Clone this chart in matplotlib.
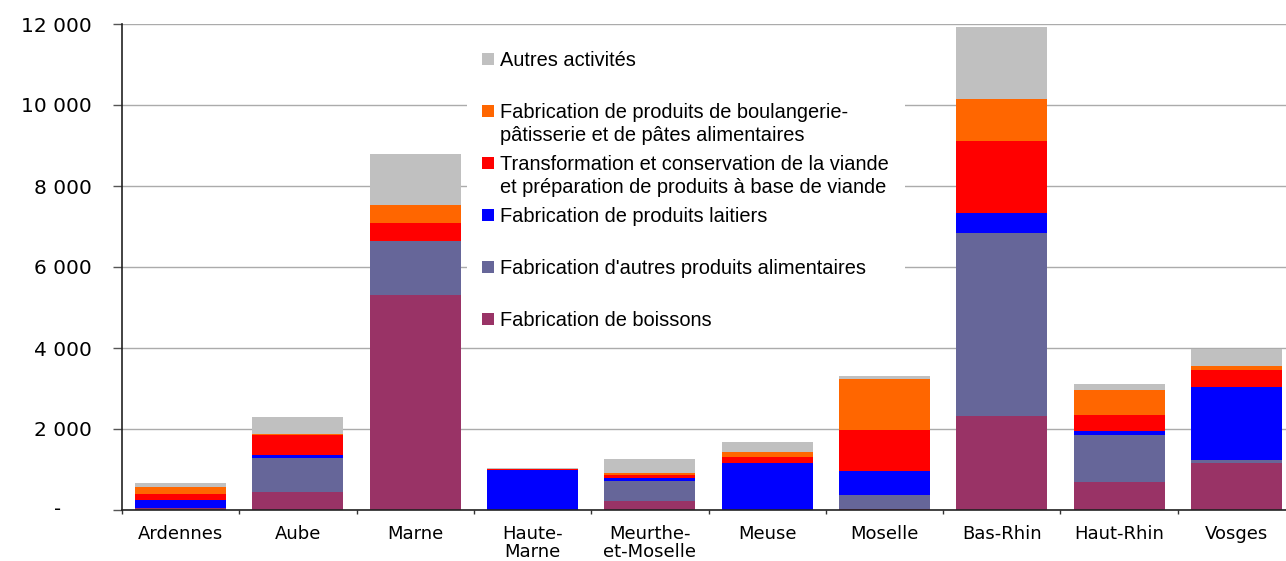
import matplotlib.pyplot as plt
from matplotlib.patches import Rectangle

W, H = 1286, 561

departements = ['Ardennes', 'Aube', 'Marne', 'Haute-\nMarne', 'Meurthe-\net-Moselle',
                'Meuse', 'Moselle', 'Bas-Rhin', 'Haut-Rhin', 'Vosges']

# effectifs par activite (bas -> haut de la pile)
boissons = [60, 450, 5300, 0, 230, 0, 30, 2320, 690, 1160]
autres_alim = [0, 840, 1350, 10, 495, 0, 350, 4520, 1160, 75]
laitiers = [195, 65, 0, 985, 65, 1160, 585, 490, 100, 1800]
viande = [148, 500, 440, 20, 85, 150, 1020, 1775, 395, 430]
boulangerie = [165, 25, 445, 5, 50, 125, 1260, 1040, 620, 100]
autres = [100, 420, 1255, 15, 340, 245, 65, 1780, 150, 420]

series = [boissons, autres_alim, laitiers, viande, boulangerie, autres]
couleurs = ['#993366', '#666699', '#0000FF', '#FF0000', '#FF6600', '#C0C0C0']
libelles = ['Fabrication de boissons',
            "Fabrication d'autres produits alimentaires",
            'Fabrication de produits laitiers',
            'Transformation et conservation de la viande\net préparation de produits à base de viande',
            'Fabrication de produits de boulangerie-\npâtisserie et de pâtes alimentaires',
            'Autres activités']

yticks = [0, 2000, 4000, 6000, 8000, 10000, 12000]
ytick_labels = ['', '2 000', '4 000', '6 000', '8 000', '10 000', '12 000']

fig = plt.figure(figsize=(W / 100, H / 100), dpi=100)
ax = fig.add_axes([122 / W, 51 / H, 1173 / W, 486 / H])

x = list(range(len(departements)))
bottom = [0] * len(x)
for vals, c in zip(series, couleurs):
    ax.bar(x, vals, width=0.775, bottom=bottom, color=c, zorder=2)
    bottom = [b + v for b, v in zip(bottom, vals)]

ax.set_xlim(-0.5, len(x) - 0.5)
ax.set_ylim(0, 12000)

ax.set_yticks(yticks)
ax.set_yticklabels(ytick_labels, fontsize=14.5, family='DejaVu Sans')
ax.tick_params(axis='y', direction='out', length=6.5, width=1, color='#555555', pad=15)
ax.text(-0.0546, 0, '-', transform=ax.get_yaxis_transform(), ha='center', va='center',
        fontsize=14, family='DejaVu Sans')

ax.set_xticks(x)
ax.set_xticklabels(departements, fontsize=13, family='DejaVu Sans', linespacing=1.05)
ax.set_xticks([i - 0.5 for i in range(len(x) + 1)], minor=True)
ax.tick_params(axis='x', which='major', length=0, pad=10.5)
ax.tick_params(axis='x', which='minor', direction='out', length=3, width=1, color='#333333')

ax.yaxis.grid(True, color='#ABABAB', lw=1)
ax.set_axisbelow(True)
for s in ['top', 'right']:
    ax.spines[s].set_visible(False)
ax.spines['left'].set_color('#222222')
ax.spines['bottom'].set_color('#222222')
ax.spines['left'].set_linewidth(1.2)
ax.spines['bottom'].set_linewidth(1.2)

# legende dessinee a la main (fond blanc sur le quadrillage)
fig.add_artist(Rectangle((467 / W, 1 - 340 / H), (905 - 467) / W, (340 - 37) / H,
                         transform=fig.transFigure, facecolor='white', edgecolor='none', zorder=3))
for i, (lab, c) in enumerate(zip(libelles[::-1], couleurs[::-1])):
    yc = 59 + 52 * i
    fig.add_artist(Rectangle((482 / W, 1 - (yc + 6) / H), 12 / W, 12 / H,
                             transform=fig.transFigure, facecolor=c, edgecolor='none', zorder=4))
    fig.text(500 / W, 1 - (yc - 8) / H, lab, ha='left', va='top', fontsize=14.4,
             family='Liberation Sans', linespacing=1.29, zorder=5)

fig.savefig('out.png', dpi=100)
